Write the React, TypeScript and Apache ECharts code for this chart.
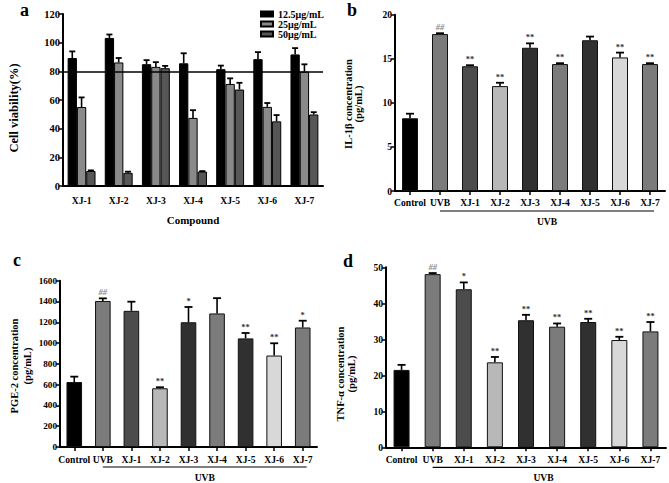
import React, { useEffect, useRef } from 'react';
import * as echarts from 'echarts';

// ---------- Panel a: cell viability ----------
const compounds = ['XJ-1', 'XJ-2', 'XJ-3', 'XJ-4', 'XJ-5', 'XJ-6', 'XJ-7'];
const concLabels = ['12.5μg/mL', '25μg/mL', '50μg/mL'];
const viability125 = [89.3, 103.3, 85, 85.6, 81.5, 88.5, 91.8];
const viability125Err = [4.6, 2.4, 2.8, 7, 2.5, 4.9, 4.4];
const viability25 = [55.1, 86.2, 83.1, 47.5, 71.2, 55.2, 79.8];
const viability25Err = [6.7, 3.1, 3.3, 5.4, 3.9, 2.7, 5.1];
const viability50 = [10.5, 9.2, 82.2, 10.1, 67.3, 45.1, 49.9];
const viability50Err = [0.4, 0.8, 1.6, 0.3, 4.7, 4.4, 1.6];
const viabilityThreshold = 80;
const viabilityTicks = { max: 120, interval: 20 };

// ---------- Panels b, c, d ----------
const groups = ['Control', 'UVB', 'XJ-1', 'XJ-2', 'XJ-3', 'XJ-4', 'XJ-5', 'XJ-6', 'XJ-7'];

const il1b = [8.25, 17.8, 14.15, 11.9, 16.25, 14.4, 17.1, 15.15, 14.4];
const il1bErr = [0.52, 0.1, 0.12, 0.38, 0.5, 0.1, 0.42, 0.55, 0.1];
const il1bSig = ['', '##', '**', '**', '**', '**', '', '**', '**'];
const il1bTicks = { max: 20, interval: 5 };

const pge2 = [625, 1405, 1310, 565, 1200, 1285, 1045, 880, 1150];
const pge2Err = [52, 25, 88, 10, 147, 147, 52, 118, 65];
const pge2Sig = ['', '##', '', '**', '*', '', '**', '**', '*'];
const pge2Ticks = { max: 1600, interval: 200 };

const tnf = [21.5, 48.1, 43.9, 23.6, 35.3, 33.5, 34.8, 29.8, 32.2];
const tnfErr = [1.4, 0.3, 1.9, 1.5, 1.5, 0.9, 0.9, 0.9, 2.6];
const tnfSig = ['', '##', '*', '**', '**', '**', '**', '**', '**'];
const tnfTicks = { max: 50, interval: 10 };

const yTitles = [
  ['Cell viability(%)'],
  ['IL-1β concentration', '(pg/mL)'],
  ['PGE-2 concentration', '(pg/mL)'],
  ['TNF-α concentration', '(pg/mL)'],
];
const panelLetters = ['a', 'b', 'c', 'd'];

const concColors = ['#000000', '#8a8a8a', '#575757'];
const groupColors = ['#000000', '#7b7b7b', '#4c4c4c', '#b8b8b8', '#303030', '#7b7b7b', '#303030', '#d8d8d8', '#7b7b7b'];

const FONT = '"Liberation Serif", "Times New Roman", serif';

function yAxisCfg(gridIndex: number, ticks: { max: number; interval: number }, fontSize: number) {
  return {
    type: 'value',
    gridIndex,
    min: 0,
    max: ticks.max,
    interval: ticks.interval,
    axisLine: { show: true, lineStyle: { color: '#000', width: 2 } },
    axisTick: { show: true, length: 4, lineStyle: { color: '#000', width: 1.5 } },
    axisLabel: { fontFamily: FONT, fontWeight: 'bold', fontSize, color: '#000', margin: 3, formatter: (v: number) => String(v) },
    splitLine: { show: false },
  };
}

function xAxisCfg(gridIndex: number, data: string[], ticks: boolean, margin: number, extra: any = {}) {
  return {
    type: 'category',
    gridIndex,
    data,
    axisLine: { show: true, lineStyle: { color: '#000', width: 2 } },
    axisTick: { show: ticks, alignWithLabel: true, length: 4, lineStyle: { color: '#000', width: 1.5 } },
    axisLabel: { fontFamily: FONT, fontWeight: 'bold', fontSize: 9.6, color: '#000', margin, interval: 0 },
    ...extra,
  };
}

function errSeries(axisIndex: number, values: number[], errs: number[], sigs: string[] | null, offset: number, cap: number, sigColor: (s: string) => string) {
  return {
    type: 'custom',
    xAxisIndex: axisIndex,
    yAxisIndex: axisIndex,
    z: 5,
    silent: true,
    data: values.map((v, i) => [i, v, errs[i]]),
    renderItem: (params: any, api: any) => {
      const i = api.value(0);
      const v = api.value(1);
      const e = api.value(2);
      const p0 = api.coord([i, v]);
      const p1 = api.coord([i, v + e]);
      const cx = p0[0] + offset;
      const children: any[] = [
        { type: 'line', shape: { x1: cx, y1: p0[1], x2: cx, y2: p1[1] }, style: { stroke: '#000', lineWidth: 1.6 } },
        { type: 'line', shape: { x1: cx - cap, y1: p1[1], x2: cx + cap, y2: p1[1] }, style: { stroke: '#000', lineWidth: 1.8 } },
      ];
      const sig = sigs ? sigs[params.dataIndex] : '';
      if (sig) {
        children.push({
          type: 'text',
          x: cx,
          y: p1[1] - 1.5,
          style: {
            text: sig,
            align: 'center',
            verticalAlign: 'bottom',
            fontFamily: FONT,
            fontWeight: 'bold',
            fontStyle: sig.startsWith('#') ? 'italic' : 'normal',
            fontSize: 8.5,
            fill: sigColor(sig),
          },
        });
      }
      return { type: 'group', children };
    },
  };
}

function barSeries(axisIndex: number, values: number[], colors: string[], width: number) {
  return {
    type: 'bar',
    xAxisIndex: axisIndex,
    yAxisIndex: axisIndex,
    barWidth: width,
    data: values.map((v, i) => ({ value: v, itemStyle: { color: colors[i] } })),
    itemStyle: { borderColor: '#111', borderWidth: 1 },
  };
}

const sigColor = (s: string) => (s.startsWith('#') ? '#8a8a8a' : '#333');

export default function App() {
  const ref = useRef<HTMLDivElement>(null);

  useEffect(() => {
    if (!ref.current) return;
    const chart = echarts.init(ref.current, undefined, { renderer: 'svg' });
    const barW = 9.3;
    const aSeries: any[] = [viability125, viability25, viability50].map((vals, k) => ({
      type: 'bar',
      name: concLabels[k],
      xAxisIndex: 0,
      yAxisIndex: 0,
      barWidth: barW,
      barGap: '0%',
      data: vals,
      itemStyle: { color: concColors[k], borderColor: '#000', borderWidth: 1 },
      ...(k === 0
        ? {
            markLine: {
              silent: true,
              symbol: 'none',
              label: { show: false },
              lineStyle: { color: '#000', width: 1.6, type: 'solid' },
              data: [{ yAxis: viabilityThreshold }],
            },
          }
        : {}),
    }));
    const aErr = [
      [viability125, viability125Err],
      [viability25, viability25Err],
      [viability50, viability50Err],
    ].map(([v, e], k) => errSeries(0, v, e, null, (k - 1) * barW, 3, sigColor));

    const option: any = {
      animation: false,
      backgroundColor: '#fff',
      textStyle: { fontFamily: FONT },
      legend: {
        data: concLabels,
        orient: 'vertical',
        left: 255,
        top: 4,
        icon: 'rect',
        itemWidth: 12,
        itemHeight: 5,
        itemGap: 0,
        selectedMode: false,
        textStyle: { fontFamily: FONT, fontWeight: 'bold', fontSize: 10, color: '#000', lineHeight: 10 },
      },
      grid: [
        { left: 63, top: 14, width: 260, height: 172 },
        { left: 395, top: 14.7, width: 270, height: 176.3 },
        { left: 60, top: 280.7, width: 257, height: 166.3 },
        { left: 386, top: 267.3, width: 280, height: 180 },
      ],
      xAxis: [
        xAxisCfg(0, compounds, false, 9, {
          name: 'Compound',
          nameLocation: 'middle',
          nameGap: 28,
          nameTextStyle: { fontFamily: FONT, fontWeight: 'bold', fontSize: 11, color: '#000' },
        }),
        xAxisCfg(1, groups, true, 6),
        xAxisCfg(2, groups, true, 7),
        xAxisCfg(3, groups, true, 7),
      ],
      yAxis: [
        yAxisCfg(0, viabilityTicks, 10.5),
        yAxisCfg(1, il1bTicks, 9.6),
        yAxisCfg(2, pge2Ticks, 9.2),
        yAxisCfg(3, tnfTicks, 9.6),
      ],
      series: [
        ...aSeries,
        ...aErr,
        barSeries(1, il1b, groupColors, 16),
        errSeries(1, il1b, il1bErr, il1bSig, 0, 4, sigColor),
        barSeries(2, pge2, groupColors, 15.6),
        errSeries(2, pge2, pge2Err, pge2Sig, 0, 4, sigColor),
        barSeries(3, tnf, groupColors, 16),
        errSeries(3, tnf, tnfErr, tnfSig, 0, 4, sigColor),
      ],
    };
    chart.setOption(option);

    // panel letters: [x, y centre]
    const letterPos: [number, number][] = [
      [20, 9.5],
      [347, 9.5],
      [13, 260],
      [343, 260.5],
    ];
    const graphics: any[] = panelLetters.map((t, k) => ({
      type: 'text',
      id: 'letter' + k,
      x: letterPos[k][0],
      y: letterPos[k][1],
      style: {
        text: t,
        fontFamily: FONT,
        fontWeight: 'bold',
        fontSize: 18,
        fill: '#000',
        align: 'left',
        verticalAlign: 'middle',
      },
    }));

    // rotated y-axis titles: [x of each line, y centre, font size]
    const titlePos: [number[], number, number][] = [
      [[14], 108, 12.5],
      [[348, 358.5], 104, 10.5],
      [[14, 27], 366, 10.5],
      [[340.5, 351], 374, 10.5],
    ];
    yTitles.forEach((lines, k) => {
      const [xs, yc, fs] = titlePos[k];
      lines.forEach((line, j) => {
        graphics.push({
          type: 'text',
          id: `yt${k}_${j}`,
          x: xs[j],
          y: yc,
          rotation: Math.PI / 2,
          style: {
            text: line,
            fontFamily: FONT,
            fontWeight: 'bold',
            fontSize: fs,
            fill: '#000',
            align: 'center',
            verticalAlign: 'middle',
          },
        });
      });
    });

    [1, 2, 3].forEach((k) => {
      const xs = chart.convertToPixel({ xAxisIndex: k } as any, 'UVB') as number;
      const xe = chart.convertToPixel({ xAxisIndex: k } as any, 'XJ-7') as number;
      const y0 = chart.convertToPixel({ yAxisIndex: k } as any, 0) as number;
      graphics.push({
        type: 'line',
        id: 'bl' + k,
        shape: { x1: xs, y1: y0 + 20, x2: xe + 4, y2: y0 + 20 },
        style: { stroke: '#000', lineWidth: 1.2 },
      });
      graphics.push({
        type: 'text',
        id: 'bt' + k,
        x: (xs + xe + 4) / 2,
        y: y0 + 30,
        style: {
          text: 'UVB',
          fontFamily: FONT,
          fontWeight: 'bold',
          fontSize: 9.6,
          fill: '#000',
          align: 'center',
          verticalAlign: 'middle',
        },
      });
    });
    chart.setOption({ graphic: graphics });

    return () => chart.dispose();
  }, []);

  return <div ref={ref} style={{ position: 'absolute', left: 0, top: 0, width: 669, height: 483 }} />;
}
